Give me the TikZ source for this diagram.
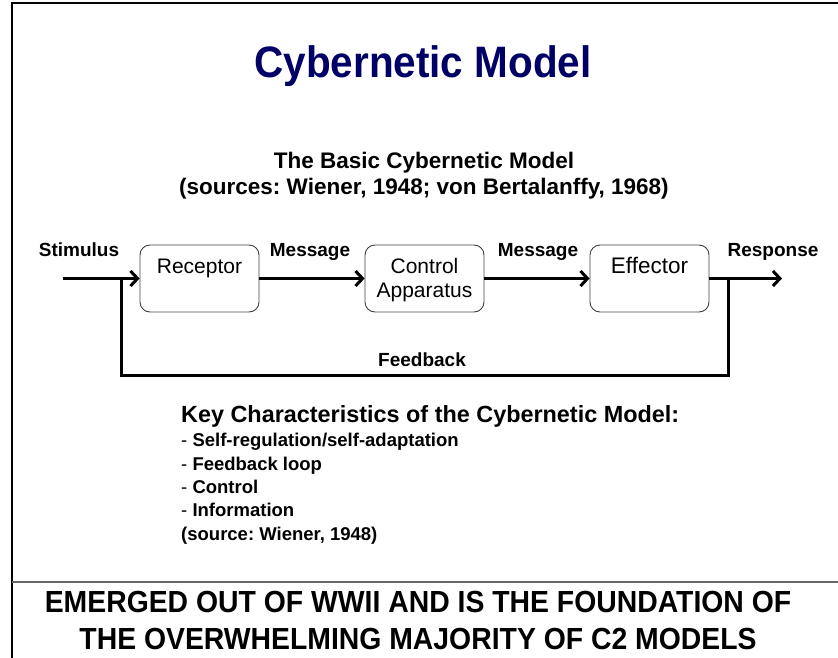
\documentclass[tikz,border=0pt]{standalone}
\usepackage{fontspec}
\setmainfont{Liberation Sans}
\usetikzlibrary{arrows.meta}
\definecolor{titleblue}{RGB}{0,0,102}
\frenchspacing
\begin{document}
\begin{tikzpicture}[x=1pt,y=-1pt,
  box/.style={draw=black!75, line width=0.9pt, rounded corners=10pt, minimum width=119pt,
    inner sep=0pt, text width=119pt, align=center, text height=28pt, text depth=39pt,
    font=\fontsize{21}{24}\selectfont},
  flow/.style={line width=3pt, -{Straight Barb[length=7pt,width=15pt,line width=3pt]}},
  lbl/.style={font=\bfseries\fontsize{19}{22}\selectfont, inner sep=0pt, anchor=base},
]
\useasboundingbox (0,0) rectangle (838,658);
% frame
\draw[line width=2.5pt] (12,658) -- (12,3) -- (838,3);
\draw[line width=1.5pt, black!60] (12,582) -- (838,582);
% title
\node[anchor=base, inner sep=0pt, text=titleblue, font=\bfseries\fontsize{44}{48}\selectfont] (title) at (423,78) {\scalebox{0.92}[1]{Cybernetic Model}};
\node[anchor=base, inner sep=0pt, align=center, font=\bfseries\fontsize{22.5}{26}\selectfont] (sub) at (424,194) {The Basic Cybernetic Model\\(sources: Wiener, 1948; von Bertalanffy, 1968)};
% boxes
\node[box] (rec) at (199.5,278.5) {Receptor};
\node[box] (ctl) at (424.5,278.5) {Control\\Apparatus};
\node[box, font=\fontsize{22.5}{24}\selectfont] (eff) at (649.5,278.5) {Effector};
% connectors
\coordinate (sin) at (63,278.5);
\coordinate (rout) at (782,278.5);
\coordinate (fbR) at (728,278.5);
\coordinate (fbL) at (121,278.5);
\draw[line width=3pt] (fbR) -- ++(0,96.5) -| (fbL);
\draw[flow] (sin) -- (rec.west);
\draw[flow] (rec.east) -- (ctl.west);
\draw[flow] (ctl.east) -- (eff.west);
\draw[flow] (eff.east) -- (rout);
% labels
\node[lbl] (stim) at (79,256) {Stimulus};
\node[lbl] (msg1) at (310,256) {Message};
\node[lbl] (msg2) at (538,256) {Message};
\node[lbl] (resp) at (773,256) {Response};
\node[lbl] (fb) at (422,366) {Feedback};
% key characteristics
\node[anchor=base west, inner sep=0pt, font=\bfseries\fontsize{23.4}{26}\selectfont] (key) at (181,422) {Key Characteristics of the Cybernetic Model:};
\node[anchor=base west, inner sep=0pt, align=left, font=\bfseries\fontsize{18.5}{23.3}\selectfont] (items) at (181,540)
  {{\mdseries -} Self-regulation/self-adaptation\\
   {\mdseries -} Feedback loop\\
   {\mdseries -} Control\\
   {\mdseries -} Information\\
   (source: Wiener, 1948)};
% bottom statement
\node[anchor=base, inner sep=0pt, align=center, font=\bfseries\fontsize{30.5}{37}\selectfont] (bottom) at (418,649)
  {\scalebox{0.93}[1]{EMERGED OUT OF WWII AND IS THE FOUNDATION OF}\\\scalebox{0.93}[1]{THE OVERWHELMING MAJORITY OF C2 MODELS}};
\end{tikzpicture}
\end{document}
